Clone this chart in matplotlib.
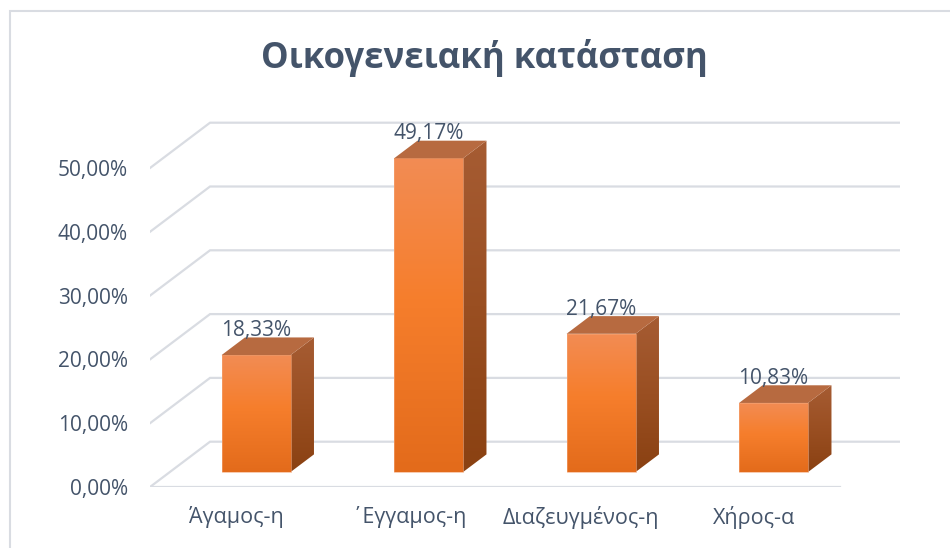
import numpy as np
import matplotlib
matplotlib.use('Agg')
import matplotlib.pyplot as plt
from matplotlib.patches import Polygon, Rectangle
from matplotlib.colors import LinearSegmentedColormap
from matplotlib.lines import Line2D

plt.rcParams['font.family'] = ['Open Sans', 'DejaVu Sans']

categories = ['Άγαμος-η', '΄Εγγαμος-η', 'Διαζευγμένος-η', 'Χήρος-α']
values = [18.33, 49.17, 21.67, 10.83]
value_labels = ['18,33%', '49,17%', '21,67%', '10,83%']
y_ticks = [0, 10, 20, 30, 40, 50]
y_tick_labels = ['0,00%', '10,00%', '20,00%', '30,00%', '40,00%', '50,00%']
title = 'Οικογενειακή κατάσταση'

TEXT = '#44546A'
GRID = '#D9DCE2'

W, H = 950, 548
fig = plt.figure(figsize=(W / 100, H / 100), dpi=100)

n = len(categories)
DX, DY = 0.348, 7.1          # full depth offset (category units, percent)
F0, F1 = 0.33, 0.72          # front / back depth fraction of the bars
BW = 0.4                     # bar width
px_per_cat = 172.5
px_per_pct = 6.38
YMAX = 60

ax = fig.add_axes([150 / W, 61 / H, px_per_cat * (n + DX) / W, px_per_pct * YMAX / H])
ax.set_facecolor('none')
for s in ax.spines.values():
    s.set_visible(False)

# back wall gridlines + left diagonals
for t in y_ticks:
    ax.add_line(Line2D([0, DX, n + DX], [t, t + DY, t + DY], color=GRID, lw=1.6, zorder=1,
                       solid_joinstyle='miter'))
# floor front edge
ax.add_line(Line2D([0, n], [0, 0], color=GRID, lw=1.6, zorder=1))


def grad_fill(pts, stops, z):
    pts = np.asarray(pts)
    poly = Polygon(pts, closed=True, facecolor='none', edgecolor='none', zorder=z)
    ax.add_patch(poly)
    cmap = LinearSegmentedColormap.from_list('g', stops)
    img = np.linspace(0, 1, 256).reshape(-1, 1)
    im = ax.imshow(img, cmap=cmap, aspect='auto', origin='upper',
                   extent=(pts[:, 0].min(), pts[:, 0].max(), pts[:, 1].min(), pts[:, 1].max()),
                   interpolation='bilinear', zorder=z)
    im.set_clip_path(poly)
    return poly


front_stops = [(0, '#F28C54'), (0.45, '#F67E2C'), (1, '#E36B1B')]
side_stops = [(0, '#A65C33'), (0.5, '#9A4F22'), (1, '#8A4112')]
top_color = '#B76A40'

for i, v in enumerate(values):
    x0 = i + 0.5 - BW / 2 + F0 * DX
    x1 = x0 + BW
    yb = F0 * DY
    yt = v + F0 * DY
    ddx = (F1 - F0) * DX
    ddy = (F1 - F0) * DY
    # side face
    grad_fill([(x1, yb), (x1 + ddx, yb + ddy), (x1 + ddx, yt + ddy), (x1, yt)], side_stops, 3)
    # front face
    grad_fill([(x0, yb), (x1, yb), (x1, yt), (x0, yt)], front_stops, 4)
    ax.add_patch(Rectangle((x0, yb), BW, v, facecolor='none', edgecolor='#F4A576',
                           lw=0.6, alpha=0.7, zorder=5))
    # top face
    ax.add_patch(Polygon([(x0, yt), (x1, yt), (x1 + ddx, yt + ddy), (x0 + ddx, yt + ddy)],
                         closed=True, facecolor=top_color, edgecolor='none', zorder=5))
    # data label
    ax.text(i + 0.5 + F0 * DX, v + F1 * DY + 0.2, value_labels[i], ha='center', va='baseline',
            fontsize=15, color=TEXT, zorder=6)

ax.set_xlim(0, n + DX)
ax.set_ylim(0, YMAX)

ax.set_yticks(y_ticks)
ax.set_yticklabels(y_tick_labels)
ax.set_xticks([i + 0.5 for i in range(n)])
ax.set_xticklabels(categories)
ax.tick_params(axis='y', length=0, pad=16, labelsize=15, labelcolor=TEXT)
ax.tick_params(axis='x', length=0, pad=14, labelsize=15.5, labelcolor=TEXT)

fig.text(484 / W, 1 - 68.3 / H, title, ha='center', va='baseline', fontsize=25,
         fontweight='bold', color=TEXT)

# chart area border (top and left visible)
fig.patches.append(Rectangle((10 / W, -0.1), 1.2, 537 / H + 0.1, transform=fig.transFigure,
                             fill=False, edgecolor=GRID, lw=1.5))

fig.savefig('out.png', dpi=100)
